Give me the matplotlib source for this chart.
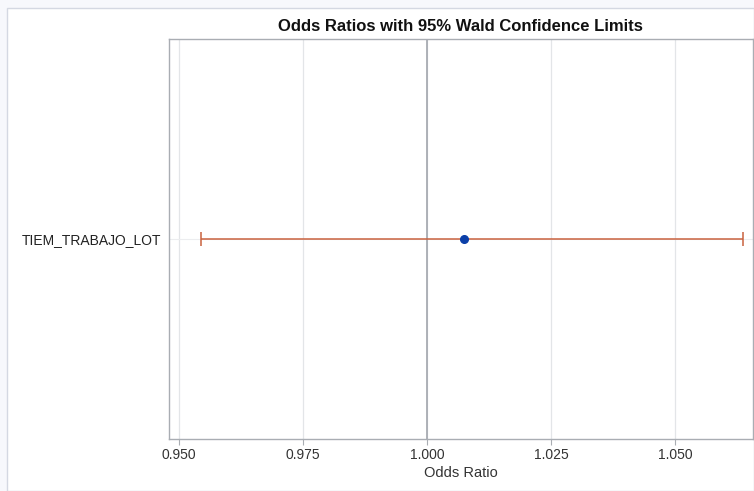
import matplotlib
matplotlib.use("Agg")
import matplotlib.pyplot as plt
from matplotlib.patches import Rectangle

plt.rcParams['font.family'] = ['Liberation Sans', 'DejaVu Sans']

effects = ["TIEM_TRABAJO_LOT"]
odds_ratio = [1.0075]
lower_cl = [0.9544]
upper_cl = [1.0637]
xticks = [0.950, 0.975, 1.000, 1.025, 1.050]
xticklabels = ["0.950", "0.975", "1.000", "1.025", "1.050"]

fig = plt.figure(figsize=(7.54, 4.91), dpi=100)
fig.patch.set_facecolor("#F7F8FC")
# inner white panel with thin border
panel = Rectangle((7/754, 0), 1 - 7/754, 1 - 8/491, transform=fig.transFigure,
                  facecolor="white", edgecolor="#D4D8E2", linewidth=1.0, zorder=-10)
fig.patches.append(panel)

ax = fig.add_axes([168.5/754, 1 - 438.5/491, (753 - 168.5)/754, (438.5 - 39)/491])
ax.set_facecolor("white")
ax.set_zorder(5)

ypos = list(range(len(effects)))
for i in ypos:
    ax.hlines(ypos[i], lower_cl[i], upper_cl[i], color="#C9623F", linewidth=1.1, zorder=3)
    ax.vlines([lower_cl[i], upper_cl[i]], ypos[i] - 0.035, ypos[i] + 0.035,
              color="#C9623F", linewidth=1.1, zorder=3)
ax.plot(odds_ratio, ypos, "o", color="#0B3FA8", markersize=5.5, zorder=4)

ax.axvline(1.0, color="#A8ACB2", linewidth=1.3, zorder=2)

ax.set_xlim(0.9479, 1.0657)
ax.set_ylim(-1, 1)
ax.set_xticks(xticks)
ax.set_xticklabels(xticklabels)
ax.set_yticks(ypos)
ax.set_yticklabels(effects)
ax.grid(True, axis="x", color="#E3E5E8", linewidth=0.9, zorder=1)
ax.grid(True, axis="y", color="#ECEDEF", linewidth=0.8, zorder=1)
ax.set_axisbelow(True)

for s in ax.spines.values():
    s.set_color("#A9ADB3")
    s.set_linewidth(1.0)

ax.tick_params(axis="x", length=4, color="#A9ADB3", labelsize=10, labelcolor="#333333", pad=2.5)
ax.tick_params(axis="y", length=0, labelsize=10, labelcolor="#222222", pad=5)

ax.set_xlabel("Odds Ratio", fontsize=10.5, color="#333333", labelpad=3)
ax.set_title("Odds Ratios with 95% Wald Confidence Limits", fontsize=12,
             fontweight="bold", color="#111111", pad=6)

fig.savefig("out.png", dpi=100, facecolor=fig.get_facecolor())
